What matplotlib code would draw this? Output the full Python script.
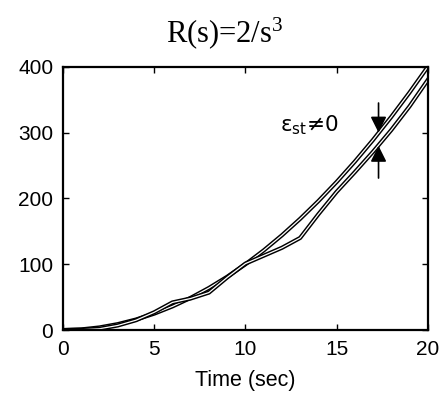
import numpy as np
import matplotlib.pyplot as plt
import matplotlib.patheffects as pe

# time axis and the two responses (reference input and system output)
t = [0, 1, 2, 3, 4, 5, 6, 7, 8, 9, 10, 11, 12, 13, 14, 15, 16, 17, 18, 19, 20]
r_t = [0, 1, 4, 9, 16, 25, 36, 49, 64, 81, 100, 121, 144, 169, 196, 225, 256, 289, 324, 361, 400]
c_t = [0, 0.5, 2, 7, 15, 27, 42, 48, 57, 80, 101, 113, 125, 140, 176, 210, 240, 271, 304, 340, 380]

# steady-state error marker
t_err = 17.3
r_err = 300
c_err = 280

plt.rcParams['font.family'] = ['Liberation Sans', 'DejaVu Sans']
plt.rcParams['mathtext.default'] = 'regular'

fig = plt.figure(figsize=(4.41, 4.05), dpi=100)
ax = fig.add_axes([0.143, 0.185, 0.827, 0.65])

outline = [pe.Stroke(linewidth=3.0, foreground='black'), pe.Normal()]
ax.plot(t, r_t, color='white', lw=0.9, path_effects=outline)
ax.plot(t, c_t, color='white', lw=0.9, path_effects=outline)

arrow = dict(arrowstyle='-|>', color='black', lw=1.2, mutation_scale=24, shrinkA=0, shrinkB=0)
ax.annotate('', xy=(t_err, r_err), xytext=(t_err, 345), arrowprops=arrow)
ax.annotate('', xy=(t_err, c_err), xytext=(t_err, 231), arrowprops=arrow)
ax.text(11.9, 312, 'ε$_{st}$≠0', fontsize=15.5, ha='left', va='center',
        family=['DejaVu Sans'])

ax.set_xlim(0, 20)
ax.set_ylim(0, 400)
ax.set_xticks([0, 5, 10, 15, 20])
ax.set_yticks([0, 100, 200, 300, 400])
ax.tick_params(direction='in', length=4, width=1, top=True, right=True,
               labelsize=15, pad=7)
for s in ax.spines.values():
    s.set_linewidth(1.6)

ax.set_xlabel('Time (sec)', fontsize=15.5, labelpad=8)
fig.text(0.51, 0.918, 'R(s)=2/s$^{3}$', ha='center', va='center', fontsize=22,
         family='Liberation Serif')

fig.savefig('out.png', dpi=100)
